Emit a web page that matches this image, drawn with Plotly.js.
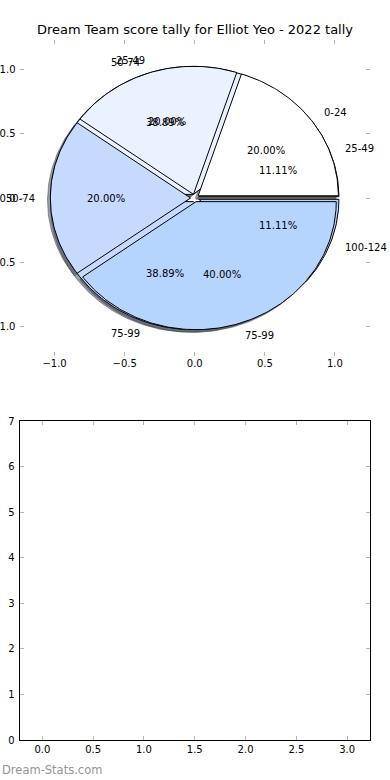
<!DOCTYPE html>
<html>
<head>
<meta charset="utf-8">
<script src="https://cdn.plot.ly/plotly-3.0.1.min.js"></script>
<style>html,body{margin:0;padding:0;background:#fff;}#chart{width:390px;height:780px;}</style>
</head>
<body>
<div id="chart"></div>
<script>
// ---- data ----
const chartTitle = "Dream Team score tally for Elliot Yeo - 2022 tally";
const pieALabels = ["0-24", "25-49", "50-74", "75-99"];
const pieAValues = [1, 1, 1, 2];
const pieBLabels = ["25-49", "50-74", "75-99", "100-124"];
const pieBValues = [2, 7, 7, 2];
const sliceColors = ["#ffffff", "#eaf2ff", "#c6daff", "#b5d5ff"];
const pieTicks = [-1.0, -0.5, 0.0, 0.5, 1.0];
const lowerXTicks = [0, 0.5, 1, 1.5, 2, 2.5, 3];
const lowerYTicks = [0, 1, 2, 3, 4, 5, 6, 7];
const watermark = "Dream-Stats.com";

// ---- pie geometry (matplotlib style) ----
const EXPLODE = 0.03, LABEL_D = 1.1, PCT_D = 0.6, SH = -0.02;
function hexToRgb(h){h=h.replace('#','');return [parseInt(h.substr(0,2),16),parseInt(h.substr(2,2),16),parseInt(h.substr(4,2),16)];}
function buildPie(values, labels){
  const total = values.reduce((a,b)=>a+b,0);
  let start = 0;
  return values.map((v,i)=>{
    const span = 360*v/total;
    const t1 = start, t2 = start+span; start = t2;
    const mid = (t1+t2)/2*Math.PI/180;
    const cx = EXPLODE*Math.cos(mid), cy = EXPLODE*Math.sin(mid);
    const xs=[cx], ys=[cy];
    const n = Math.max(2, Math.ceil(span));
    for(let k=0;k<=n;k++){const a=(t1+span*k/n)*Math.PI/180; xs.push(cx+Math.cos(a)); ys.push(cy+Math.sin(a));}
    xs.push(cx); ys.push(cy);
    return {xs, ys, color: sliceColors[i], label: labels[i],
      lx: cx+LABEL_D*Math.cos(mid), ly: cy+LABEL_D*Math.sin(mid),
      px: cx+PCT_D*Math.cos(mid), py: cy+PCT_D*Math.sin(mid),
      pct: (100*v/total).toFixed(2)+"%"};
  });
}
const pieA = buildPie(pieAValues, pieALabels);
const pieB = buildPie(pieBValues, pieBLabels);

const traces = [];
function shadowTrace(w){
  const c = hexToRgb(w.color).map(x=>Math.round(x*0.3));
  const col = `rgba(${c[0]},${c[1]},${c[2]},0.5)`;
  return {type:'scatter', mode:'lines', x:w.xs.map(x=>x+SH), y:w.ys.map(y=>y+SH),
    fill:'toself', fillcolor:col, line:{color:col, width:1}, hoverinfo:'skip', xaxis:'x', yaxis:'y'};
}
function wedgeTrace(w){
  return {type:'scatter', mode:'lines', x:w.xs, y:w.ys, fill:'toself', fillcolor:w.color,
    line:{color:'#000000', width:1}, hoverinfo:'skip', xaxis:'x', yaxis:'y'};
}
pieB.forEach(w=>traces.push(shadowTrace(w)));
pieA.forEach(w=>traces.push(shadowTrace(w)));
pieB.forEach(w=>traces.push(wedgeTrace(w)));
pieA.forEach(w=>traces.push(wedgeTrace(w)));
traces.push({type:'scatter', mode:'markers', x:[], y:[], xaxis:'x2', yaxis:'y2'});

const txtFont = {family:'DejaVu Sans', size:10, color:'#000'};
const annotations = [];
[pieA, pieB].forEach(p=>p.forEach(w=>{
  annotations.push({xref:'x', yref:'y', x:w.px, y:w.py, text:w.pct, showarrow:false,
    xanchor:'center', yanchor:'middle', font:txtFont});
  annotations.push({xref:'x', yref:'y', x:w.lx, y:w.ly, text:w.label, showarrow:false,
    xanchor: w.lx>0?'left':'right', yanchor:'middle', font:txtFont, borderpad:0});
}));
annotations.push({xref:'paper', yref:'paper', x:0, y:1-770/780, text:watermark, showarrow:false,
  xanchor:'left', yanchor:'middle', font:{family:'DejaVu Sans', size:11.5, color:'#959595'}});

const tickFont = {family:'DejaVu Sans', size:10, color:'#000'};
const baseAxis = {showgrid:false, zeroline:false, ticks:'inside', ticklen:4, tickwidth:1,
  tickcolor:'#b4b4b4', tickfont:tickFont, fixedrange:true};

const layout = {
  width:390, height:780, margin:{l:0,r:0,t:0,b:0}, paper_bgcolor:'#fff', plot_bgcolor:'#fff',
  showlegend:false,
  title:{text:chartTitle, x:0.5, xanchor:'center', y:1-29/780, yanchor:'middle',
    font:{family:'DejaVu Sans', size:13, color:'#000'}},
  xaxis:Object.assign({}, baseAxis, {domain:[19.5/390, 370/390], range:[-1.25,1.25], anchor:'y',
    tickvals:pieTicks, tickformat:'.1f', showline:false, mirror:'ticks'}),
  yaxis:Object.assign({}, baseAxis, {domain:[1-356/780, 1-40/780], range:[-1.234,1.234], anchor:'x',
    tickvals:pieTicks, tickformat:'.1f', showline:false, mirror:'ticks', ticklabelstandoff:3}),
  xaxis2:Object.assign({}, baseAxis, {domain:[19.5/390, 370/390], range:[-0.225,3.225], anchor:'y2',
    tickvals:lowerXTicks, tickformat:'.1f', showline:true, linecolor:'#000', linewidth:1, mirror:'ticks'}),
  yaxis2:Object.assign({}, baseAxis, {domain:[1-740/780, 1-421/780], range:[0,7], anchor:'x2',
    tickvals:lowerYTicks, tickformat:'d', showline:true, linecolor:'#000', linewidth:1, mirror:'ticks', ticklabelstandoff:2}),
  annotations
};
Plotly.newPlot('chart', traces, layout, {staticPlot:true, displayModeBar:false});
</script>
</body>
</html>
